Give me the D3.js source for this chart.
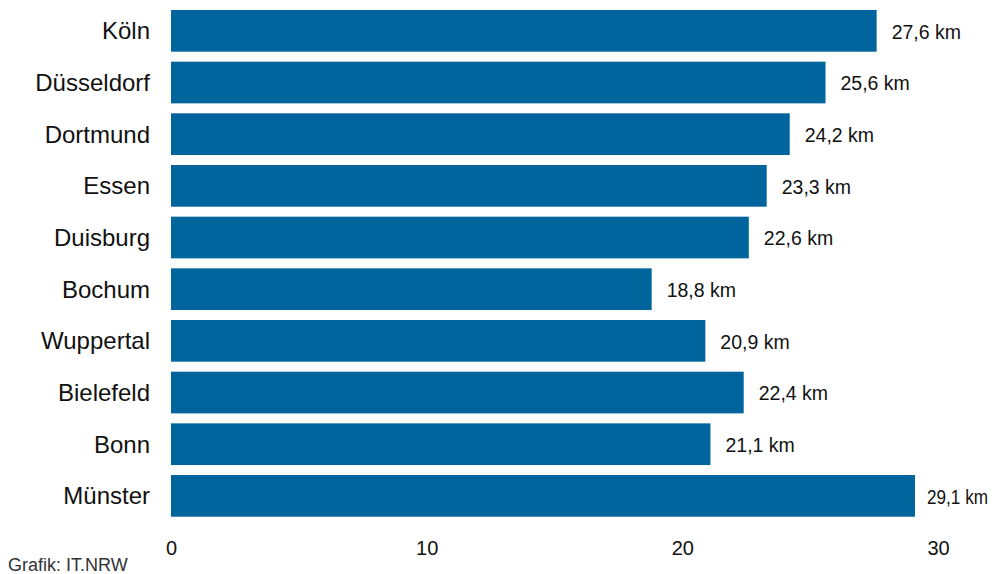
<!DOCTYPE html>
<html>
<head>
<meta charset="utf-8">
<script src="https://cdn.jsdelivr.net/npm/d3@7"></script>
<style>
    body { margin: 0; background: #fff; }
    svg { display: block; font-family: "Liberation Sans", Arial, sans-serif; }
</style>
</head>
<body>
<svg id="chart"></svg>
<script>
const cities = ['Köln', 'Düsseldorf', 'Dortmund', 'Essen', 'Duisburg', 'Bochum', 'Wuppertal', 'Bielefeld', 'Bonn', 'Münster'];
const distances = [27.6, 25.6, 24.2, 23.3, 22.6, 18.8, 20.9, 22.4, 21.1, 29.1];
const xTicks = [0, 10, 20, 30];
const source = 'Grafik: IT.NRW';

const width = 995;
const height = 574;
const barColor = '#00659c';

const svg = d3.select('#chart')
    .attr('width', width)
    .attr('height', height);

const data = cities.map((c, i) => ({city: c, value: distances[i]}));

const scales = {};
scales.x = d3.scaleLinear()
    .domain([0, 30])
    .range([171, 938]);
scales.y = d3.scaleBand()
    .domain(cities)
    .range([5, 521.7])
    .paddingInner(0.193)
    .paddingOuter(0.0965);

// bars
svg.append('g')
    .selectAll('rect.bar')
    .data(data)
    .join('rect')
    .classed('bar', true)
    .attr('x', scales.x(0))
    .attr('y', d => scales.y(d.city))
    .attr('width', d => scales.x(d.value) - scales.x(0))
    .attr('height', scales.y.bandwidth())
    .attr('fill', barColor);

// category labels
svg.append('g')
    .selectAll('text.city')
    .data(data)
    .join('text')
    .classed('city', true)
    .attr('x', 150)
    .attr('y', d => scales.y(d.city) + scales.y.bandwidth() / 2)
    .attr('dy', '0.35em')
    .attr('text-anchor', 'end')
    .attr('font-size', 24)
    .attr('fill', '#111')
    .text(d => d.city);

// value labels, squeezed when they would run off the right edge
const fmt = v => v.toFixed(1).replace('.', ',') + ' km';
const rightLimit = 988;
svg.append('g')
    .selectAll('text.value')
    .data(data)
    .join('text')
    .classed('value', true)
    .attr('x', d => scales.x(d.value) + 15)
    .attr('y', d => scales.y(d.city) + scales.y.bandwidth() / 2 + 1)
    .attr('dy', '0.35em')
    .attr('font-size', 19.5)
    .attr('fill', '#111')
    .text(d => fmt(d.value))
    .each(function (d) {
        const start = scales.x(d.value) + 15;
        if (start + this.getComputedTextLength() > rightLimit) {
            const x = scales.x(d.value) + 12;
            d3.select(this)
                .attr('x', x)
                .attr('textLength', rightLimit - x)
                .attr('lengthAdjust', 'spacingAndGlyphs');
        }
    });

// x axis (labels only)
const xAxis = d3.axisBottom(scales.x)
    .tickValues(xTicks)
    .tickSize(0)
    .tickPadding(0);
const elAxisX = svg.append('g')
    .attr('transform', 'translate(0, 541)')
    .call(xAxis);
elAxisX.select('.domain').remove();
elAxisX.selectAll('text')
    .attr('font-size', 20)
    .attr('font-family', '"Liberation Sans", Arial, sans-serif')
    .attr('fill', '#111');

// source
svg.append('text')
    .attr('x', 8)
    .attr('y', 571)
    .attr('font-size', 18)
    .attr('fill', '#333')
    .text(source);
</script>
</body>
</html>
